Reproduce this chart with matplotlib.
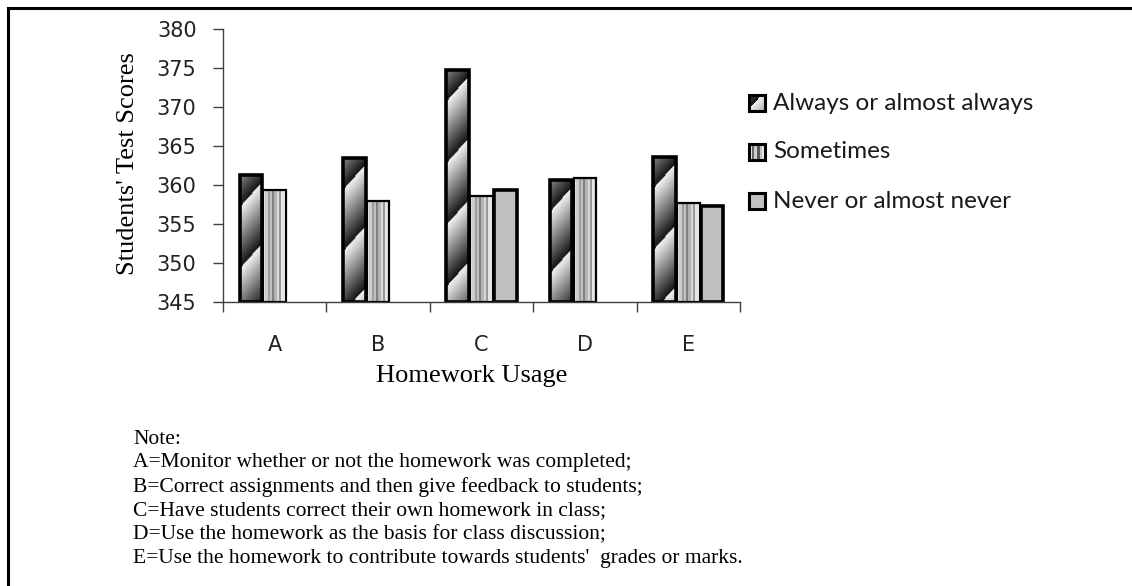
import numpy as np
import matplotlib
matplotlib.use("Agg")
import matplotlib.pyplot as plt
from matplotlib.lines import Line2D

# --- data ---
categories = ["A", "B", "C", "D", "E"]
series_names = ["Always or almost always", "Sometimes", "Never or almost never"]
always = [361.3, 363.5, 374.8, 360.7, 363.6]
sometimes = [359.3, 358.0, 358.6, 360.9, 357.7]
never = [np.nan, np.nan, 359.4, np.nan, 357.3]
y_ticks = [345, 350, 355, 360, 365, 370, 375, 380]
note_lines = [
    "Note:",
    "A=Monitor whether or not the homework was completed;",
    "B=Correct assignments and then give feedback to students;",
    "C=Have students correct their own homework in class;",
    "D=Use the homework as the basis for class discussion;",
    "E=Use the homework to contribute towards students'  grades or marks.",
]

W, H = 1132, 586
fig = plt.figure(figsize=(W / 100, H / 100), dpi=100)

# border (top and left lines)
fig.add_artist(Line2D([8 / W, 1], [1 - 8 / H, 1 - 8 / H], color="black", lw=2.2))
fig.add_artist(Line2D([8 / W, 8 / W], [0, 1 - 8 / H], color="black", lw=2.2))

ax_l, ax_r, ax_t, ax_b = 223, 740, 29, 302
ax = fig.add_axes([ax_l / W, 1 - ax_b / H, (ax_r - ax_l) / W, (ax_b - ax_t) / H])
ymin, ymax = 345, 380
ax.set_xlim(-0.5, 4.5)
ax.set_ylim(ymin, ymax)
px_x = (ax_r - ax_l) / 5.0
px_y = (ax_b - ax_t) / (ymax - ymin)


def diag_texture(wpx, hpx, top_gap=20):
    # diagonal dark-to-light bands of the "always" bars, dark at the top
    xx, yy = np.meshgrid(np.arange(wpx), np.arange(hpx))
    off = -(hpx - top_gap - wpx / 2 * 1.1)
    u = ((yy - xx * 1.1 + off) / 62.0) % 1.0
    return 0.08 + 0.87 * u


stripe_vals = [0.97, 0.8, 0.62, 0.75, 0.5, 0.7, 0.85, 0.6, 0.9, 1.0]
bw = 0.22
offs = [-0.23, 0.0, 0.23]
xs = np.arange(len(categories))

# always or almost always
bars_a = ax.bar(xs + offs[0], np.array(always) - ymin, bw, bottom=ymin,
                facecolor="none", edgecolor="black", lw=2.6, zorder=3)
for b in bars_a:
    x0, w, h = b.get_x(), b.get_width(), b.get_height()
    tex = diag_texture(int(w * px_x) + 2, int(h * px_y) + 2)
    im = ax.imshow(tex, cmap="gray", vmin=0, vmax=1, origin="lower",
                   extent=[x0, x0 + w, ymin, ymin + h], aspect="auto",
                   interpolation="bilinear", zorder=2)
    im.set_clip_path(b)

# sometimes
bars_s = ax.bar(xs + offs[1], np.array(sometimes) - ymin, bw, bottom=ymin,
                facecolor="none", edgecolor="black", lw=1.6, zorder=3)
for b in bars_s:
    x0, w, h = b.get_x(), b.get_width(), b.get_height()
    im = ax.imshow(np.array([stripe_vals]), cmap="gray", vmin=0, vmax=1,
                   origin="lower", extent=[x0, x0 + w, ymin, ymin + h],
                   aspect="auto", interpolation="nearest", zorder=2)
    im.set_clip_path(b)

# never or almost never
never_arr = np.array(never)
ok = ~np.isnan(never_arr)
ax.bar(xs[ok] + offs[2], never_arr[ok] - ymin, bw, bottom=ymin,
       facecolor="#c0c0c0", edgecolor="black", lw=2.6, zorder=3)

ax.set_xlim(-0.5, 4.5)
ax.set_ylim(ymin, ymax)

# axes styling
for s in ["top", "right"]:
    ax.spines[s].set_visible(False)
for s in ["left", "bottom"]:
    ax.spines[s].set_color("#404040")
    ax.spines[s].set_linewidth(1.0)
    ax.spines[s].set_zorder(4)

ax.set_yticks(y_ticks)
ax.tick_params(axis="y", length=7, width=1, color="#404040", pad=12,
               labelsize=15, labelcolor="#222222")
ax.set_xticks(np.arange(-0.5, 5.0, 1.0))
ax.set_xticklabels([])
ax.set_xticks(xs, minor=True)
ax.set_xticklabels(categories, minor=True)
ax.tick_params(axis="x", which="major", length=7, width=1, color="#404040")
ax.tick_params(axis="x", which="minor", length=0, pad=24,
               labelsize=15, labelcolor="#222222")

serif = "Liberation Serif"
fig.text(128 / W, 1 - 164 / H, "Students' Test Scores", rotation=90,
         ha="center", va="center", family=serif, fontsize=19)
fig.text(472 / W, 1 - 376 / H, "Homework Usage", ha="center", va="center",
         family=serif, fontsize=19)

# legend drawn by hand
leg_y = [103, 152, 201]
hs = 16
for i, (name, yc) in enumerate(zip(series_names, leg_y)):
    hax = fig.add_axes([749 / W, 1 - (yc + hs / 2) / H, hs / W, hs / H])
    if i == 0:
        hax.imshow(diag_texture(16, 16, top_gap=5), cmap="gray", vmin=0,
                   vmax=1, origin="lower", aspect="auto")
    elif i == 1:
        hax.imshow(np.array([[0.9, 0.4, 0.8, 0.35, 0.75, 0.9]]), cmap="gray",
                   vmin=0, vmax=1, aspect="auto", interpolation="nearest")
    else:
        hax.set_facecolor("#c0c0c0")
    hax.set_xticks([])
    hax.set_yticks([])
    for sp in hax.spines.values():
        sp.set_linewidth(2.2)
        sp.set_color("black")
    fig.text(773 / W, 1 - yc / H, name, ha="left", va="center",
             family="Lato", fontsize=17.5, color="#1a1a1a")

# note under the chart
note_y0, note_dy = 439, 24
for k, line in enumerate(note_lines):
    fig.text(133 / W, 1 - (note_y0 + k * note_dy) / H, line, ha="left",
             va="center", family=serif, fontsize=15.5)

fig.savefig("out.png", dpi=100)
